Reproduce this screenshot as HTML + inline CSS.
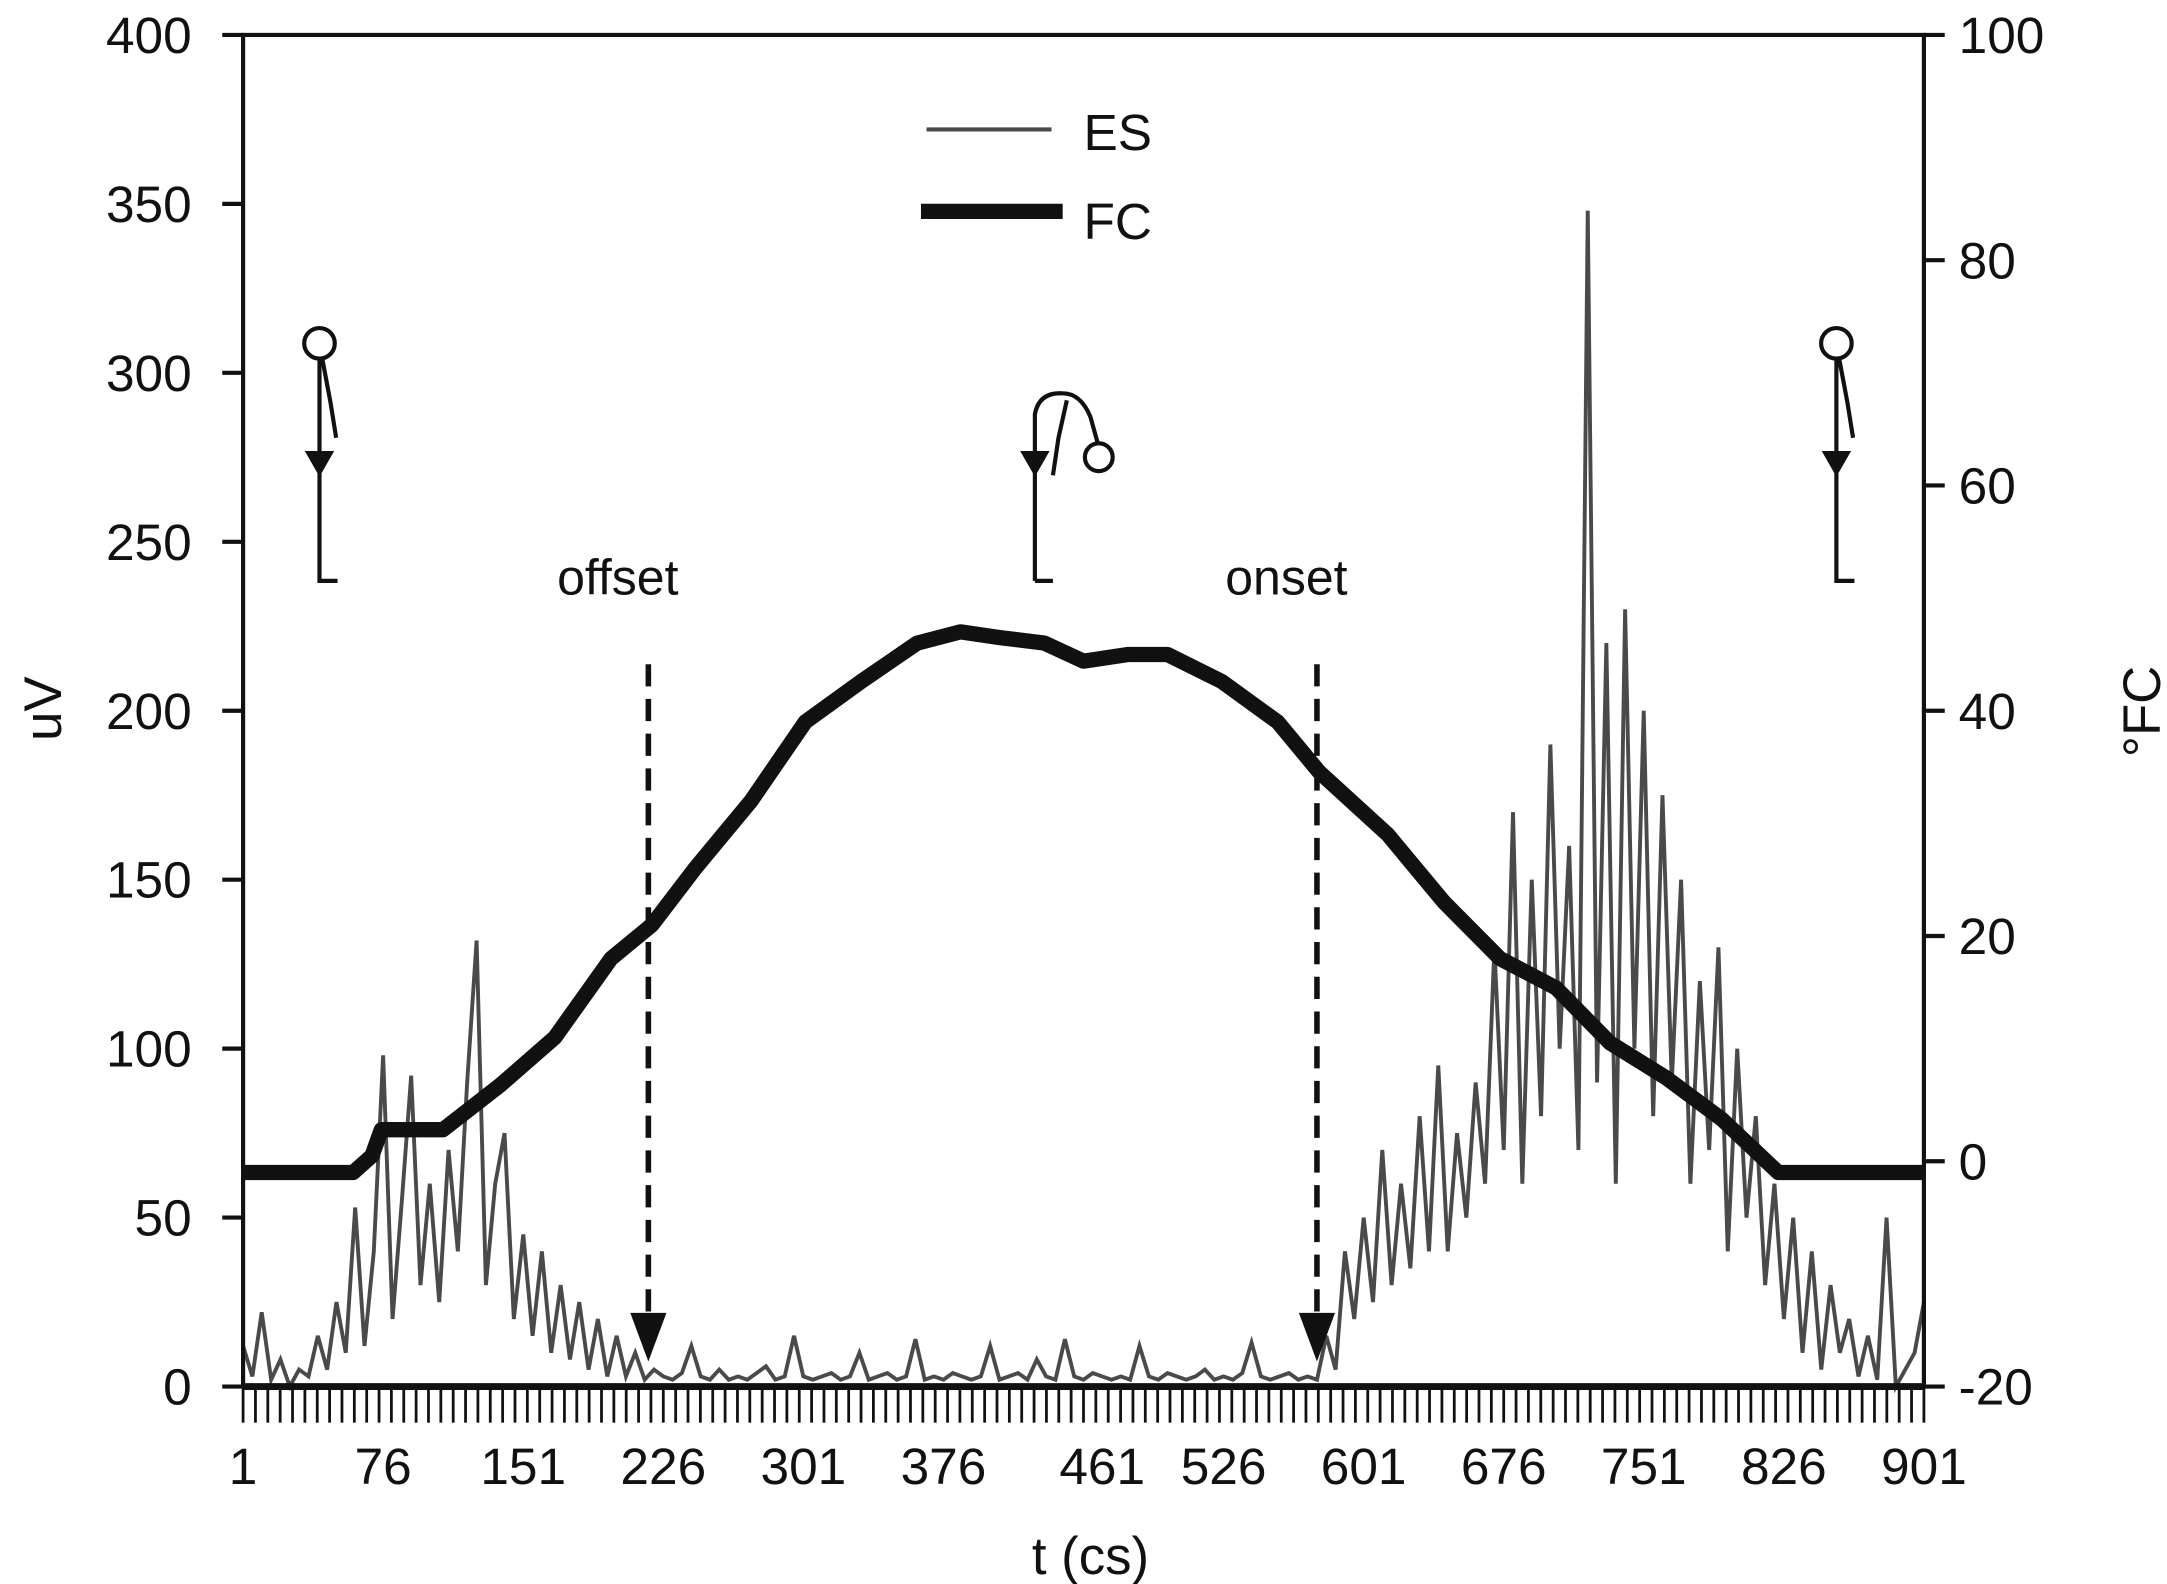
<!DOCTYPE html>
<html><head><meta charset="utf-8"><style>html,body{margin:0;padding:0;background:#fff}svg{display:block}text{font-family:"Liberation Sans",sans-serif;fill:#111}</style></head>
<body>
<svg id="chart" width="2167" height="1584" viewBox="0 0 1560 1140" xmlns="http://www.w3.org/2000/svg">
<g id="stick-figures" fill="none" stroke="#111" stroke-width="3">
  <g>
    <circle cx="230" cy="247" r="11"/><path d="M230 258 V418 H243"/><path d="M232 258 L238 290 L242 315"/>
    <path d="M222 326 H238 L230 340 Z" fill="#111"/>
  </g>
  <g>
    <path d="M745 418 V298 Q748 282 765 283 Q778 283 785 300 L790 318"/><circle cx="791" cy="329" r="10"/>
    <path d="M768 288 L762 315 L758 342"/><path d="M745 418 H758"/>
    <path d="M737 326 H753 L745 340 Z" fill="#111"/>
  </g>
  <g>
    <circle cx="1322" cy="247" r="11"/><path d="M1322 258 V418 H1335"/><path d="M1324 258 L1330 290 L1334 315"/>
    <path d="M1314 326 H1330 L1322 340 Z" fill="#111"/>
  </g>
</g>
<g id="plot"></g>
</svg>
<script>
const esTimes = [];
for (let t = 1; t <= 901; t += 5) esTimes.push(t);
const esValues = [12,3,22,2,8,0,5,3,15,5,25,10,53,12,40,98,20,55,92,30,60,25,70,40,90,132,30,60,75,20,45,15,40,10,30,8,25,5,20,3,15,3,10,2,5,
3,2,4,12,3,2,5,2,3,2,4,6,2,3,15,3,2,3,4,2,3,10,2,3,4,2,3,14,2,3,2,4,3,2,3,12,2,3,4,2,8,3,2,14,3,2,4,3,2,3,2,12,3,2,4,3,2,3,5,2,3,2,4,13,3,2,3,4,2,3,2,
15,5,40,20,50,25,70,30,60,35,80,40,95,40,75,50,90,60,130,70,170,60,150,80,190,100,160,70,348,90,220,60,230,100,200,80,175,90,150,60,120,70,130,40,100,50,80,30,60,20,50,10,40,5,30,10,20,3,15,2,50,0,5,10,25,3];
const fcTimes = [1,60,70,75,108,139,168,198,220,243,273,302,332,362,385,406,430,451,475,496,525,555,577,614,644,674,704,733,763,793,823,901];
const fcValues = [-1,-1,0.5,2.8,2.8,6.8,11,18,21,26,32,39,42.6,46,47,46.5,46,44.4,45,45,42.6,39,34.6,29,23,18,15.4,10.5,7.4,3.7,-1,-1];
const leftTicks = [0,50,100,150,200,250,300,350,400];
const rightTicks = [-20,0,20,40,60,80,100];
const xTickLabels = [1,76,151,226,301,376,461,526,601,676,751,826,901];
const markers = [{label:'offset', t:218},{label:'onset', t:576}];

const X0=175,X1=1385,Y0=998,Y1=25;
const xs=t=>X0+(t-1)/900*(X1-X0);
const yL=v=>Y0-v/400*(Y0-Y1);
const yR=v=>Y0-(v+20)/120*(Y0-Y1);
const NS='http://www.w3.org/2000/svg';
const g=document.getElementById('plot');
function mk(tag,attrs,parent){const e=document.createElementNS(NS,tag);for(const k in attrs)e.setAttribute(k,attrs[k]);(parent||g).appendChild(e);return e;}

let d='';esValues.forEach((v,i)=>{d+=(i?'L':'M')+xs(esTimes[i]).toFixed(1)+' '+yL(v).toFixed(1);});
const es=mk('path',{d:d,fill:'none',stroke:'#4a4a4a','stroke-width':2.8});



let d2='';fcValues.forEach((v,i)=>{d2+=(i?'L':'M')+xs(fcTimes[i]).toFixed(1)+' '+yR(v).toFixed(1);});
const fc=mk('path',{d:d2,fill:'none',stroke:'#111','stroke-width':11,'stroke-linejoin':'round'});



markers.forEach(m=>{
  const x=xs(m.t);
  const ln=mk('line',{x1:x,y1:478,x2:x,y2:948,stroke:'#111','stroke-width':4,'stroke-dasharray':'16 9'});
  
  
  const ar=mk('path',{d:`M${x-13} 945 H${x+13} L${x} 980 Z`,fill:'#111'});
  
  
  const tx=mk('text',{x:x-22,y:428,'font-size':36,'text-anchor':'middle'});tx.textContent=m.label;
  
  
});

const fr=mk('rect',{x:X0,y:Y1,width:X1-X0,height:Y0-Y1,fill:'none',stroke:'#111','stroke-width':3});


mk('line',{x1:X0,y1:Y0,x2:X1,y2:Y0,stroke:'#111','stroke-width':5});

leftTicks.forEach(v=>{
  const y=yL(v);mk('line',{x1:160,y1:y,x2:X0,y2:y,stroke:'#111','stroke-width':3});
  const t=mk('text',{x:138,y:y+13,'font-size':37,'text-anchor':'end'});t.textContent=v;
  
  
});
rightTicks.forEach(v=>{
  const y=yR(v);mk('line',{x1:X1,y1:y,x2:1400,y2:y,stroke:'#111','stroke-width':3});
  const t=mk('text',{x:1410,y:y+13,'font-size':37});t.textContent=v;
  
  
});
for(let i=0;i<=136;i++){const x=X0+i*(X1-X0)/136;mk('line',{x1:x,y1:Y0,x2:x,y2:1024,stroke:'#111','stroke-width':2});}
xTickLabels.forEach(v=>{
  const t=mk('text',{x:xs(v),y:1068,'font-size':37,'text-anchor':'middle'});t.textContent=v;
  
  
});

let t=mk('text',{x:785,y:1133,'font-size':38,'text-anchor':'middle'});t.textContent='t (cs)';


t=mk('text',{x:0,y:0,'font-size':38,'text-anchor':'middle',transform:'translate(44 510) rotate(-90)'});t.textContent='uV';


t=mk('text',{x:0,y:0,'font-size':38,'text-anchor':'middle',transform:'translate(1555 512) rotate(-90)'});t.textContent='°FC';



const lg=mk('g',{});


mk('line',{x1:667,y1:93,x2:757,y2:93,stroke:'#4a4a4a','stroke-width':3},lg);
t=mk('text',{x:780,y:108,'font-size':37},lg);t.textContent='ES';


mk('line',{x1:663,y1:152,x2:765,y2:152,stroke:'#111','stroke-width':11},lg);
t=mk('text',{x:780,y:172,'font-size':37},lg);t.textContent='FC';


</script>
</body></html>
